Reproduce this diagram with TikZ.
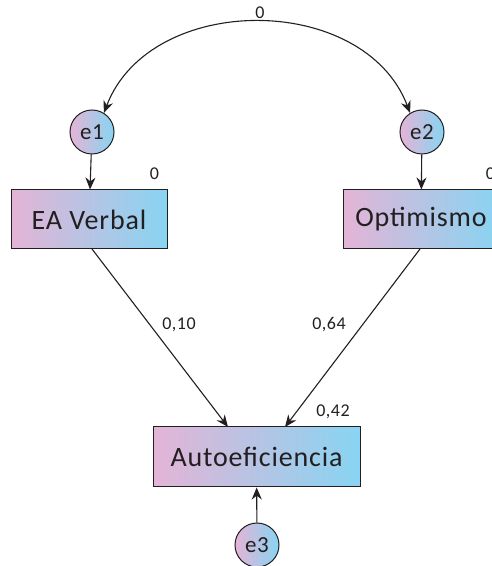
\documentclass[tikz,border=0pt]{standalone}
\usepackage{fontspec}
\setmainfont[LetterSpace=3]{Carlito}
\usetikzlibrary{arrows.meta}
\definecolor{gpink}{HTML}{E4B4D6}
\definecolor{gblue}{HTML}{88D4F2}
\definecolor{ink}{HTML}{231F20}
\begin{document}
\begin{tikzpicture}[x=1pt,y=1pt,
  varbox/.style={draw=ink,line width=1pt,left color=gpink,right color=gblue,shading angle=90,
    minimum height=59pt,inner sep=0pt,font=\fontsize{28}{30}\selectfont,text=ink},
  errc/.style={circle,draw=ink,line width=1pt,left color=gpink,right color=gblue,
    minimum size=44pt,inner sep=0pt,font=\fontsize{23}{25}\selectfont,text=ink},
  lbl/.style={font=\fontsize{18}{20}\selectfont,text=ink,inner sep=0pt},
  arr/.style={draw=ink,line width=1.1pt,-{Stealth[length=12pt,width=10pt]}}]
\useasboundingbox (0,0) rectangle (492,566);
\begin{scope}
\clip (0,0) rectangle (492,566);
\node[varbox,minimum width=156pt] (ea) at (89,346.5) {EA Verbal};
\node[varbox,minimum width=156pt] (opt) at (421,346.5) {Optimismo};
\node[varbox,minimum width=207pt,minimum height=60pt] (auto) at (256.5,109) {Autoeficiencia};
\node[errc] (e1) at (92,434) {e1};
\node[errc] (e2) at (422,434) {e2};
\node[errc] (e3) at (257,21) {e3};
\draw[arr] (e1) -- (ea);
\draw[arr] (e2) -- (opt);
\draw[arr] (e3) -- (auto);
\coordinate (eas) at (92,317);
\coordinate (aut1) at (228,139);
\coordinate (opts) at (420,317);
\coordinate (aut2) at (285,139);
\draw[arr] (eas) -- (aut1);
\draw[arr] (opts) -- (aut2);
\draw[arr,{Stealth[length=12pt,width=10pt]}-{Stealth[length=12pt,width=10pt]}]
  (e1.58) .. controls (150,574) and (364,574) .. (e2.122);
\node[lbl] (l0) at (260,553) {0};
\node[lbl] (lea) at (154.5,392.5) {0};
\node[lbl] (lopt) at (490.5,392) {0};
\node[lbl] (l10) at (179,241) {0,10};
\node[lbl] (l64) at (329,241) {0,64};
\node[lbl] (l42) at (333,154) {0,42};
\end{scope}
\end{tikzpicture}
\end{document}
